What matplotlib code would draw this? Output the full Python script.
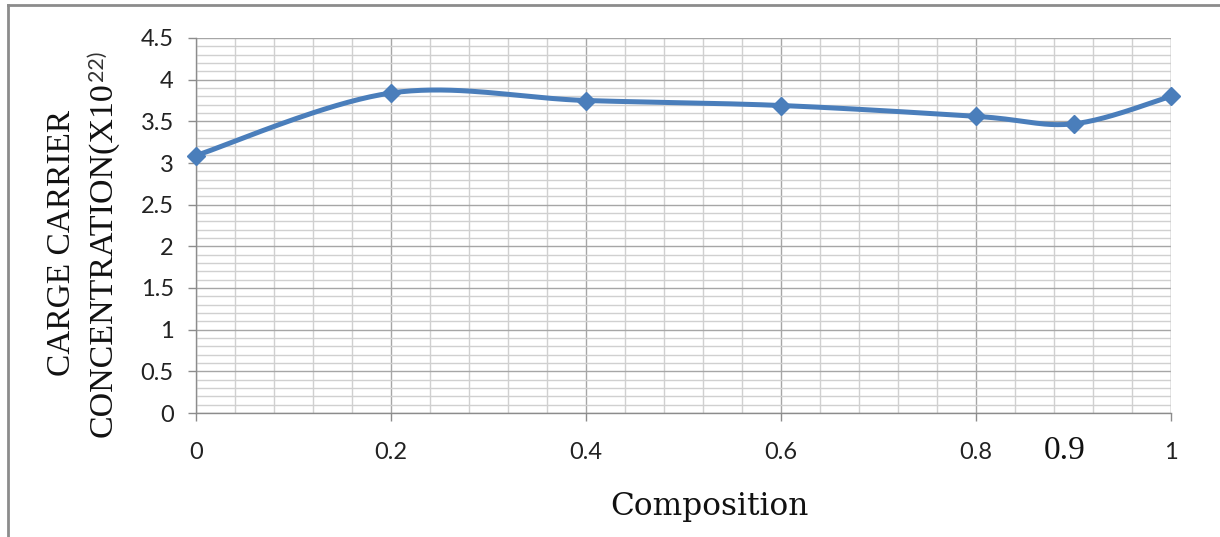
import numpy as np
import matplotlib
matplotlib.use("Agg")
import matplotlib.pyplot as plt
from matplotlib.lines import Line2D

composition = [0.0, 0.2, 0.4, 0.6, 0.8, 0.9, 1.0]
concentration = [3.09, 3.84, 3.75, 3.69, 3.56, 3.47, 3.80]
x_ticks = [0, 0.2, 0.4, 0.6, 0.8, 1.0]
x_tick_labels = ["0", "0.2", "0.4", "0.6", "0.8", "1"]
y_ticks = [0, 0.5, 1, 1.5, 2, 2.5, 3, 3.5, 4, 4.5]
y_tick_labels = ["0", "0.5", "1", "1.5", "2", "2.5", "3", "3.5", "4", "4.5"]

W, H = 1220, 537
fig = plt.figure(figsize=(W / 100, H / 100), dpi=100)
L, R, T, B = 196, 1171, 38, 413
ax = fig.add_axes([L / W, 1 - B / H, (R - L) / W, (B - T) / H])

ax.set_xlim(0, 1)
ax.set_ylim(0, 4.5)

# Excel-like smooth curve (Bezier through points, computed in pixel space)
px = np.array(composition) * (R - L)
py = np.array(concentration) / 4.5 * (B - T)
P = np.column_stack([px, py])
n = len(P)
curve = []
for i in range(n - 1):
    p0 = P[i - 1] if i > 0 else P[i]
    p1 = P[i]
    p2 = P[i + 1]
    p3 = P[i + 2] if i + 2 < n else P[i + 1]
    c1 = p1 + (p2 - p0) / 6
    c2 = p2 - (p3 - p1) / 6
    t = np.linspace(0, 1, 40)[:, None]
    seg = (1 - t) ** 3 * p1 + 3 * (1 - t) ** 2 * t * c1 + 3 * (1 - t) * t ** 2 * c2 + t ** 3 * p2
    curve.append(seg if i == 0 else seg[1:])
curve = np.vstack(curve)
cx = curve[:, 0] / (R - L)
cy = curve[:, 1] / (B - T) * 4.5

line_color = "#4A7EBB"
ax.plot(cx, cy, color=line_color, lw=3.6, solid_capstyle="round", zorder=3, clip_on=False)
ax.plot(composition, concentration, linestyle="none", marker="D", markersize=9.5,
        color=line_color, markeredgecolor=line_color, zorder=4, clip_on=False)

# grid
ax.set_xticks(x_ticks)
ax.set_xticklabels(x_tick_labels)
ax.set_yticks(y_ticks)
ax.set_yticklabels(y_tick_labels)
ax.set_xticks(np.arange(0, 1.0001, 0.04), minor=True)
ax.set_yticks(np.arange(0, 4.5001, 0.1), minor=True)
ax.grid(which="minor", color="#d0d0d0", lw=1.0)
ax.grid(which="major", color="#a6a6a6", lw=1.0)
ax.set_axisbelow(True)

for s in ["top", "right"]:
    ax.spines[s].set_visible(False)
for s in ["left", "bottom"]:
    ax.spines[s].set_color("#8c8c8c")
    ax.spines[s].set_linewidth(1.0)

ax.axvline(1.0, color="#c0c0c0", lw=1.0, zorder=1)

ax.tick_params(axis="both", which="minor", length=0)
ax.tick_params(axis="both", which="major", length=6, color="#8c8c8c", width=1.0,
               labelsize=17, labelcolor="#222222")
ax.tick_params(axis="x", which="major", pad=15)
ax.tick_params(axis="y", which="major", pad=10)
for lab in ax.get_xticklabels() + ax.get_yticklabels():
    lab.set_fontfamily("Lato")

# labels
fig.text(709 / W, 1 - 506 / H, "Composition", family="DejaVu Serif", fontsize=22.5,
         ha="center", va="center", color="#111111")
fig.text(62 / W, 1 - 243 / H, "CARGE CARRIER", family="Liberation Serif", fontsize=24,
         rotation=90, ha="center", va="center", color="#111111")
main = fig.text(111 / W, 1 - 437 / H, "CONCENTRATION(X10", family="Liberation Serif",
                fontsize=24.5, rotation=90, ha="left", va="baseline", color="#111111",
                rotation_mode="anchor")
fig.canvas.draw()
bb = main.get_window_extent(fig.canvas.get_renderer())
fig.text(87 / W, (bb.y1 + 1) / H, "22)", family="Lato", fontsize=15.5, rotation=90,
         ha="left", va="bottom", color="#333333")
fig.text(1065 / W, 1 - 451 / H, "0.9", family="Liberation Serif", fontsize=24,
         ha="center", va="center", color="#111111")

# chart frame (left and top edges visible)
fig.add_artist(Line2D([7.5 / W, 7.5 / W], [0, 1 - 5 / H], transform=fig.transFigure,
                      color="#8c8c8c", lw=2))
fig.add_artist(Line2D([7.5 / W, 1], [1 - 5 / H, 1 - 5 / H], transform=fig.transFigure,
                      color="#8c8c8c", lw=2))

fig.savefig("out.png", dpi=100)
